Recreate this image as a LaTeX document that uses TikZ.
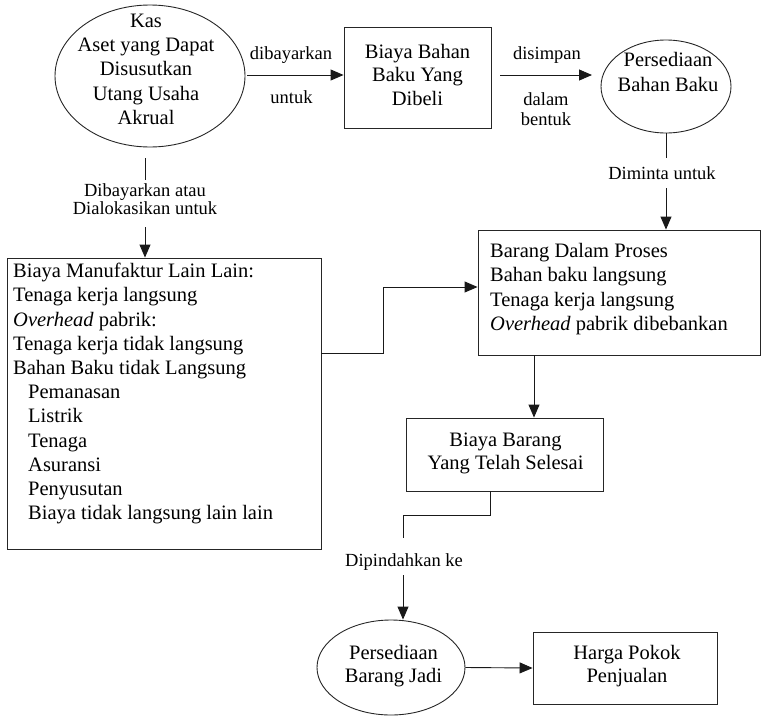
\documentclass[tikz,border=0pt]{standalone}
\usepackage{fontspec}
\setmainfont{Liberation Serif}
\usetikzlibrary{shapes.geometric,arrows.meta}
\begin{document}
\begin{tikzpicture}[x=1pt,y=-1pt,
  txt/.style={font=\fontsize{20.5}{24}\selectfont, align=center, inner sep=0pt},
  txtl/.style={font=\fontsize{20.5}{24.3}\selectfont, align=left, inner sep=0pt, anchor=north west},
  lbl/.style={font=\fontsize{18.5}{18}\selectfont, align=center, inner sep=0pt},
  box/.style={draw=black!85, line width=0.9pt, rectangle, inner sep=0pt},
  oval/.style={draw=black!85, line width=0.9pt, ellipse, inner sep=0pt},
  con/.style={line width=0.9pt, draw=black!90},
  arr/.style={con, -{Triangle[length=13pt,width=11pt]}}]
\useasboundingbox (0,0) rectangle (763,715);

% shapes
\node[oval, minimum width=190, minimum height=142] (kas) at (150,76) {};
\node[txt, font=\fontsize{20.5}{24.25}\selectfont] (kastxt) at (146,69.2) {Kas\\Aset yang Dapat\\Disusutkan\\Utang Usaha\\Akrual};

\node[box, minimum width=147, minimum height=101] (beli) at (417.5,77.5) {};
\node[txt, font=\fontsize{20.5}{23.5}\selectfont] (belitxt) at (417.5,74.5) {Biaya Bahan\\Baku Yang\\Dibeli};

\node[oval, minimum width=130, minimum height=93] (pbb) at (666,86.5) {};
\node[txt, font=\fontsize{20.5}{25}\selectfont] (pbbtxt) at (668,72.2) {Persediaan\\Bahan Baku};

\node[box, minimum width=314, minimum height=291] (box3) at (164,403.5) {};
\node[txtl, font=\fontsize{20.5}{24.2}\selectfont] (box3txt) at (13,263) {Biaya Manufaktur Lain Lain:\\
Tenaga kerja langsung\\
\textit{Overhead} pabrik:\\
Tenaga kerja tidak langsung\\
Bahan Baku tidak Langsung\\
\hspace*{15pt}Pemanasan\\
\hspace*{15pt}Listrik\\
\hspace*{15pt}Tenaga\\
\hspace*{15pt}Asuransi\\
\hspace*{15pt}Penyusutan\\
\hspace*{15pt}Biaya tidak langsung lain lain};

\node[box, minimum width=282, minimum height=125] (box4) at (619,292.5) {};
\node[txtl] (box4txt) at (490,243) {Barang Dalam Proses\\
Bahan baku langsung\\
Tenaga kerja langsung\\
\textit{Overhead} pabrik dibebankan};

\node[box, minimum width=197, minimum height=73] (box5) at (504.5,454.5) {};
\node[txt, font=\fontsize{20.5}{23}\selectfont] (box5txt) at (505.5,453.5) {Biaya Barang\\Yang Telah Selesai};

\node[oval, minimum width=148, minimum height=95] (pbj) at (391,667.5) {};
\node[txt, font=\fontsize{20.5}{23}\selectfont] (pbjtxt) at (393.5,666.5) {Persediaan\\Barang Jadi};

\node[box, minimum width=184, minimum height=72] (hpp) at (625,668) {};
\node[txt, font=\fontsize{20.5}{23}\selectfont] (hpptxt) at (627,666.5) {Harga Pokok\\Penjualan};

% labels
\node[lbl] (l1a) at (291,55) {dibayarkan};
\node[lbl] (l1b) at (291.5,97) {untuk};
\node[lbl] (l2a) at (547,55) {disimpan};
\node[lbl, font=\fontsize{18.5}{19.5}\selectfont] (l2b) at (546,109) {dalam\\bentuk};
\node[lbl] (l3) at (662,173) {Diminta untuk};
\node[lbl] (l4) at (145,199) {Dibayarkan atau\\Dialokasikan untuk};
\node[lbl] (l5) at (404,562) {Dipindahkan ke};

% connector points
\coordinate (c1) at (247,75);
\coordinate (c2) at (500,75);
\coordinate (c2b) at (592,75);
\coordinate (d1) at (666,158);
\coordinate (d2) at (666,188);
\coordinate (k1) at (145,158);
\coordinate (k2) at (145,180);
\coordinate (k3) at (145,227);
\coordinate (m1) at (383,353);
\coordinate (m2) at (383,287);
\coordinate (v1) at (534,400);
\coordinate (p1) at (490,515);
\coordinate (p2) at (403,515);
\coordinate (p3) at (403,538);
\coordinate (p4) at (403,575);

% connectors
\draw[arr] (c1) -- (c1 -| beli.west);
\draw[arr] (c2) -- (c2b);
\draw[con] (pbb.south) -- (d1);
\draw[arr] (d2) -- (d2 |- box4.north);
\draw[con] (k1) -- (k2);
\draw[arr] (k3) -- (k3 |- box3.north);
\draw[arr] (m1 -| box3.east) -- (m1) -- (m2) -- (m2 -| box4.west);
\draw[arr] (v1 |- box4.south) -- (v1 |- box5.north);
\draw[con] (p1 |- box5.south) -- (p1) -- (p2) -- (p3);
\draw[arr] (p4) -- (p4 |- pbj.north);
\draw[arr] (pbj.east) -- (hpp.west);
\end{tikzpicture}
\end{document}
